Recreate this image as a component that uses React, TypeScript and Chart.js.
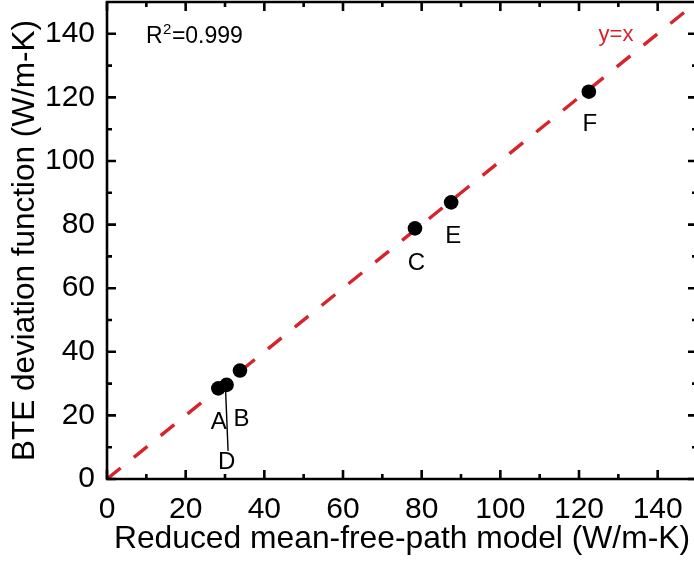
import React, { useEffect, useRef } from "react";
import { Chart, registerables } from "chart.js";

Chart.register(...registerables);

// ---- data ----
const sampleNames = ["A", "D", "B", "C", "E", "F"];
const mfpModel = [28.3, 30.4, 33.8, 78.3, 87.5, 122.5];
const bteDeviation = [28.5, 29.6, 34.1, 78.8, 87.0, 121.8];
const identityX = [0, 150];
const identityY = [0, 150];
const majorTicks = [0, 20, 40, 60, 80, 100, 120, 140];
const minorTicks = [10, 30, 50, 70, 90, 110, 130];
const tickLabels = ["0", "20", "40", "60", "80", "100", "120", "140"];
const xTitle = "Reduced mean-free-path model (W/m-K)";
const yTitle = "BTE deviation function (W/m-K)";
const rSquaredBase = "R";
const rSquaredSup = "2";
const rSquaredValue = "=0.999";
const fitLabel = "y=x";

// ---- styles / placement ----
const FONT = "'Liberation Sans', Arial, Helvetica, sans-serif";
const RED = "#d8232d";
const labelOffsets: Record<string, [number, number]> = {
  A: [0.5, 34],
  D: [0, 78],
  B: [1.5, 49],
  C: [1.5, 35],
  E: [2, 34],
  F: [1, 33],
};
const rSquaredAnchor = { x: 9.9, y: 137.0 };
const fitLabelAnchor = { x: 129.4, y: 137.6 };

const framePlugin = {
  id: "frameAndLabels",
  afterDatasetsDraw(chart: any) {
    const { ctx, chartArea: a, scales } = chart;
    const xs = scales.x;
    const ys = scales.y;
    ctx.save();
    // frame
    ctx.strokeStyle = "#000";
    ctx.lineWidth = 2.6;
    ctx.beginPath();
    ctx.rect(a.left, a.top, a.right - a.left, a.bottom - a.top);
    ctx.stroke();
    // inward ticks
    const drawTicks = (vals: number[], len: number) => {
      ctx.beginPath();
      for (const v of vals) {
        const px = xs.getPixelForValue(v);
        const py = ys.getPixelForValue(v);
        ctx.moveTo(px, a.bottom);
        ctx.lineTo(px, a.bottom - len);
        ctx.moveTo(px, a.top);
        ctx.lineTo(px, a.top + len);
        ctx.moveTo(a.left, py);
        ctx.lineTo(a.left + len, py);
        ctx.moveTo(a.right, py);
        ctx.lineTo(a.right - len, py);
      }
      ctx.stroke();
    };
    drawTicks(majorTicks, 9);
    drawTicks(minorTicks, 5);

    // point labels
    ctx.fillStyle = "#000";
    ctx.font = `24px ${FONT}`;
    ctx.textAlign = "center";
    ctx.textBaseline = "middle";
    sampleNames.forEach((n, i) => {
      const px = xs.getPixelForValue(mfpModel[i]);
      const py = ys.getPixelForValue(bteDeviation[i]);
      const [dx, dy] = labelOffsets[n];
      ctx.fillText(n, px + dx, py + dy);
      if (n === "D") {
        ctx.lineWidth = 1.4;
        ctx.beginPath();
        ctx.moveTo(px - 1, py + 5);
        ctx.lineTo(px + 1.5, py + dy - 12);
        ctx.stroke();
      }
    });

    // R^2 text
    ctx.textAlign = "left";
    ctx.textBaseline = "alphabetic";
    let rx = xs.getPixelForValue(rSquaredAnchor.x);
    const ry = ys.getPixelForValue(rSquaredAnchor.y);
    ctx.font = `23px ${FONT}`;
    ctx.fillText(rSquaredBase, rx, ry);
    rx += ctx.measureText(rSquaredBase).width;
    ctx.font = `15px ${FONT}`;
    ctx.fillText(rSquaredSup, rx + 0.5, ry - 9);
    rx += ctx.measureText(rSquaredSup).width + 1;
    ctx.font = `23px ${FONT}`;
    ctx.fillText(rSquaredValue, rx, ry);

    // y=x label
    ctx.fillStyle = RED;
    ctx.textAlign = "center";
    ctx.font = `22px ${FONT}`;
    ctx.fillText(
      fitLabel,
      xs.getPixelForValue(fitLabelAnchor.x),
      ys.getPixelForValue(fitLabelAnchor.y)
    );
    ctx.restore();
  },
};

export default function App() {
  const ref = useRef<HTMLCanvasElement>(null);
  useEffect(() => {
    const chart = new Chart(ref.current as HTMLCanvasElement, {
      type: "scatter",
      data: {
        datasets: [
          {
            label: "samples",
            data: mfpModel.map((x, i) => ({ x, y: bteDeviation[i] })),
            pointRadius: 7.3,
            pointBackgroundColor: "#000",
            pointBorderWidth: 0,
            showLine: false,
          },
          {
            label: "y=x",
            data: identityX.map((x, i) => ({ x, y: identityY[i] })),
            showLine: true,
            borderColor: RED,
            borderWidth: 3.4,
            borderDash: [17.5, 17],
            pointRadius: 0,
            fill: false,
          },
        ],
      },
      options: {
        animation: false,
        responsive: false,
        events: [],
        layout: {
          autoPadding: false,
          padding: { top: 2, right: 23, left: 0, bottom: 0 },
        },
        plugins: { legend: { display: false }, tooltip: { enabled: false } },
        scales: {
          x: {
            type: "linear",
            position: "bottom",
            min: 0,
            max: 150,
            grid: { display: false, drawTicks: false },
            border: { display: false },
            afterBuildTicks: (s: any) => {
              s.ticks = majorTicks.map((v) => ({ value: v }));
            },
            ticks: {
              callback: (_v: any, i: number) => tickLabels[i],
              font: { family: FONT, size: 30 },
              color: "#000",
              padding: 13,
              maxRotation: 0,
              autoSkip: false,
            },
            title: {
              display: true,
              text: xTitle,
              color: "#000",
              font: { family: FONT, size: 31.8, lineHeight: 1.2 },
              padding: { top: 0, bottom: 4 },
            },
            afterFit: (s: any) => {
              s.height = 83;
              s.paddingLeft = 0;
              s.paddingRight = 0;
            },
          },
          y: {
            type: "linear",
            position: "left",
            min: 0,
            max: 150,
            grid: { display: false, drawTicks: false },
            border: { display: false },
            afterBuildTicks: (s: any) => {
              s.ticks = majorTicks.map((v) => ({ value: v }));
            },
            ticks: {
              callback: (_v: any, i: number) => tickLabels[i],
              font: { family: FONT, size: 30 },
              color: "#000",
              padding: 12,
              autoSkip: false,
            },
            title: {
              display: true,
              text: yTitle,
              color: "#000",
              font: { family: FONT, size: 31.5, lineHeight: 1.2 },
              padding: { top: 6, bottom: 0 },
            },
            afterFit: (s: any) => {
              s.width = 107;
              s.paddingTop = 0;
              s.paddingBottom = 0;
            },
          },
        },
      },
      plugins: [framePlugin],
    });
    return () => chart.destroy();
  }, []);

  return (
    <div
      style={{
        position: "fixed",
        left: 0,
        top: 0,
        width: 694,
        height: 562,
        overflow: "hidden",
        background: "#fff",
      }}
    >
      <canvas
        ref={ref}
        width={720}
        height={562}
        style={{ display: "block", width: 720, height: 562 }}
      />
    </div>
  );
}
